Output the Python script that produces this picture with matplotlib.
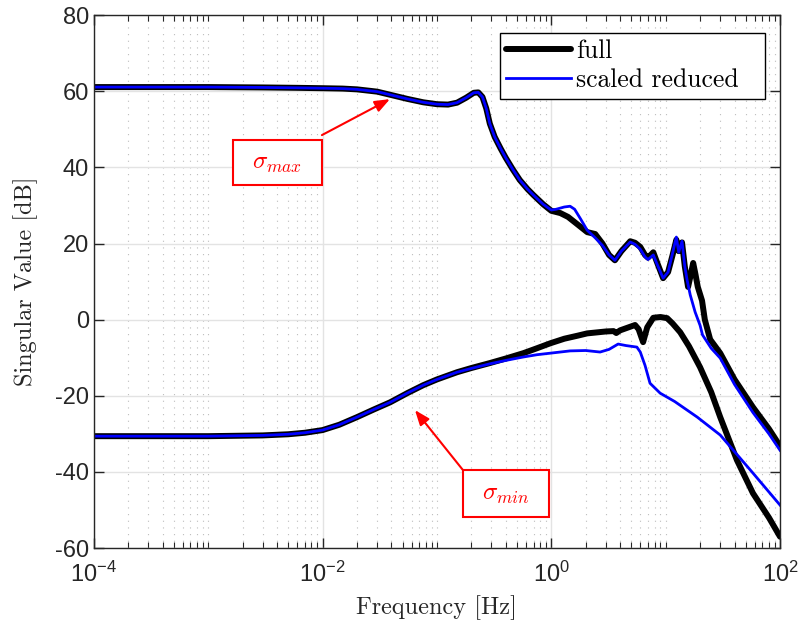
import numpy as np
import matplotlib
matplotlib.use("Agg")
import matplotlib.pyplot as plt
from matplotlib.ticker import FixedLocator, FixedFormatter, LogLocator, NullFormatter
from matplotlib.patches import Rectangle

# singular values (Hz, dB)
f_full_max = [1e-4, 1e-3, 3e-3, 6e-3, 0.01, 0.015, 0.02, 0.03, 0.04, 0.055, 0.076, 0.1, 0.125,
              0.15, 0.18, 0.21, 0.23, 0.25, 0.27, 0.29, 0.32, 0.36, 0.4, 0.46, 0.53, 0.62, 0.7,
              0.85, 1.0, 1.2, 1.4, 1.7, 2.06, 2.42, 2.8, 3.2, 3.6, 4.1, 4.9, 5.4, 6.0, 6.6, 7.0,
              7.8, 8.3, 9.5, 10.5, 11.5, 12.4, 13.0, 13.9, 14.7, 15.7, 16.5, 17.4, 18.2, 19.1,
              20.8, 22.0, 24.5, 30.0, 40.0, 58.0, 80.0, 100.0]
sv_full_max = [61.1, 61.1, 61.0, 60.9, 60.8, 60.7, 60.5, 59.9, 59.0, 58.0, 57.1, 56.6, 56.5,
               57.0, 58.3, 59.6, 59.7, 58.5, 55.5, 51.5, 48.0, 45.0, 42.5, 39.5, 36.7, 34.3, 32.7,
               30.3, 28.6, 28.0, 27.0, 25.0, 23.0, 22.5, 20.0, 17.0, 15.6, 18.0, 20.6, 20.2, 19.1, 17.0, 16.3,
               17.7, 15.5, 10.9, 12.5, 17.0, 21.0, 18.0, 20.3, 14.0, 8.6, 11.5, 14.9, 12.0, 8.6,
               5.0, 0.0, -5.2, -8.8, -15.7, -23.0, -28.7, -33.2]

f_red_max = [1e-4, 1e-3, 3e-3, 6e-3, 0.01, 0.015, 0.02, 0.03, 0.04, 0.055, 0.076, 0.1, 0.125,
             0.15, 0.18, 0.21, 0.23, 0.25, 0.27, 0.29, 0.32, 0.36, 0.4, 0.46, 0.53, 0.62, 0.7,
             0.85, 1.0, 1.1, 1.3, 1.46, 1.6, 1.8, 2.06, 2.42, 2.8, 3.2, 3.6, 4.1, 4.9, 5.4, 6.0,
             6.6, 7.0, 7.8, 8.3, 9.5, 10.5, 11.5, 12.4, 13.0, 13.9, 14.7, 15.4, 16.4, 18.1, 20.0,
             21.0, 25.0, 30.0, 40.0, 58.0, 80.0, 100.0]
sv_red_max = [61.1, 61.1, 61.0, 60.9, 60.8, 60.7, 60.5, 59.9, 59.0, 58.0, 57.1, 56.6, 56.5,
              57.0, 58.3, 59.6, 59.7, 58.5, 55.5, 51.5, 48.0, 45.0, 42.5, 39.5, 36.7, 34.3, 32.7,
              30.3, 28.8, 29.0, 29.6, 29.8, 29.0, 26.5, 23.5, 21.5, 19.5, 17.0, 15.6, 18.0, 20.4, 19.8, 18.5,
              16.5, 15.8, 17.0, 15.0, 10.9, 12.5, 17.5, 21.7, 17.7, 20.6, 14.0, 10.4, 6.5, 2.0, -1.5,
              -4.0, -7.5, -10.1, -17.0, -24.4, -30.0, -34.3]

f_full_min = [1e-4, 1e-3, 3e-3, 5e-3, 0.007, 0.01, 0.014, 0.02, 0.028, 0.039, 0.055, 0.076, 0.1,
              0.15, 0.2, 0.29, 0.4, 0.57, 0.75, 0.98, 1.3, 1.7, 2.06, 3.0, 3.5, 3.7, 4.0, 5.4, 5.8,
              6.35, 6.9, 7.8, 9.0, 10.3, 11.5, 13.4, 16.0, 20.0, 25.0, 30.0, 42.0, 58.0, 80.0, 100.0]
sv_full_min = [-30.6, -30.6, -30.4, -30.1, -29.7, -29.0, -27.6, -25.6, -23.6, -21.7, -19.3, -17.2, -15.7,
               -13.8, -12.7, -11.4, -10.2, -8.8, -7.5, -6.2, -5.0, -4.2, -3.6, -3.1, -3.0, -3.5, -2.8, -1.4, -2.5,
               -5.9, -2.0, 0.5, 0.7, 0.4, -1.0, -3.3, -7.0, -12.5, -19.0, -25.6, -36.9, -45.6, -52.0, -57.0]

f_red_min = [1e-4, 1e-3, 3e-3, 5e-3, 0.007, 0.01, 0.014, 0.02, 0.028, 0.039, 0.055, 0.076, 0.1,
             0.15, 0.2, 0.29, 0.4, 0.57, 0.75, 0.98, 1.46, 2.0, 2.67, 3.2, 3.84, 4.5, 5.6, 6.0, 6.6,
             7.3, 8.95, 12.0, 18.9, 30.0, 58.0, 100.0]
sv_red_min = [-30.6, -30.6, -30.4, -30.1, -29.7, -29.0, -27.6, -25.6, -23.6, -21.7, -19.3, -17.2, -15.7,
              -13.8, -12.8, -11.6, -10.7, -9.8, -9.2, -8.8, -8.2, -8.1, -8.5, -7.8, -6.4, -6.8, -7.2, -8.5, -12.0,
              -16.7, -19.3, -21.5, -25.6, -30.3, -40.3, -48.7]

xticks = [1e-4, 1e-2, 1e0, 1e2]
xticklabels = ['10$^{-4}$', '10$^{-2}$', '10$^{0}$', '10$^{2}$']
yticks = [-60, -40, -20, 0, 20, 40, 60, 80]

plt.rcParams['mathtext.fontset'] = 'custom'
plt.rcParams['mathtext.rm'] = 'Liberation Sans'
plt.rcParams['mathtext.it'] = 'Liberation Sans:italic'
plt.rcParams['axes.unicode_minus'] = False

fig = plt.figure(figsize=(8.02, 6.30), dpi=100)
ax = fig.add_axes([0.117, 0.130, 0.8556, 0.846])

ax.plot(f_full_max, sv_full_max, color='black', lw=4.3, label='full', solid_capstyle='round')
ax.plot(f_red_max, sv_red_max, color='#0000ff', lw=2.0, label='scaled reduced')
ax.plot(f_full_min, sv_full_min, color='black', lw=4.3, solid_capstyle='round')
ax.plot(f_red_min, sv_red_min, color='#0000ff', lw=2.0)

ax.set_xscale('log')
ax.set_xlim(1e-4, 1e2)
ax.set_ylim(-60, 80)
ax.xaxis.set_major_locator(FixedLocator(xticks))
ax.xaxis.set_major_formatter(FixedFormatter(xticklabels))
ax.xaxis.set_minor_locator(LogLocator(base=10, subs=np.arange(1, 10), numticks=50))
ax.xaxis.set_minor_formatter(NullFormatter())
ax.set_yticks(yticks)
ax.set_yticklabels([str(v) for v in yticks])

ax.tick_params(which='both', direction='in', top=True, right=True, colors='#262626',
               labelsize=17, labelcolor='#262626')
ax.tick_params(which='major', length=7, width=1)
ax.tick_params(which='minor', length=4, width=0.8)
ax.tick_params(axis='x', which='major', pad=10)
for lab in ax.get_xticklabels() + ax.get_yticklabels():
    lab.set_family('Liberation Sans')
for sp in ax.spines.values():
    sp.set_color('#262626')
    sp.set_linewidth(1)

ax.grid(True, which='major', color='#e3e3e3', lw=1, ls='-')
ax.grid(True, which='minor', axis='x', color='#bdbdbd', lw=0.8, ls=(0, (1, 5)))
ax.set_axisbelow(True)

ax.set_xlabel('Frequency [Hz]', family='cmr10', fontsize=17.5, color='#262626', labelpad=6)
ax.set_ylabel('Singular Value [dB]', family='cmr10', fontsize=17.5, color='#262626', labelpad=12)

leg = ax.legend(loc='upper left', bbox_to_anchor=(0.5918, 0.966, 0.3863, 0), mode='expand',
                borderaxespad=0, prop={'family': 'cmr10', 'size': 18.5}, fancybox=False,
                framealpha=1, edgecolor='black', handlelength=2.5, handletextpad=0.2,
                labelspacing=0.2, borderpad=0.25)
leg.get_frame().set_linewidth(1)

# annotation boxes and arrows
ax.add_patch(Rectangle((0.2026, 0.681), 0.1297, 0.0844, transform=ax.transAxes,
                       facecolor='white', edgecolor='red', lw=1.5, zorder=5))
ax.text(0.2676, 0.723, r'$\sigma_{max}$', transform=ax.transAxes, color='red', fontsize=18,
        math_fontfamily='cm', ha='center', va='center', zorder=6)
ax.annotate('', xy=(0.4315, 0.8424), xytext=(0.3324, 0.7749), xycoords='axes fraction',
            arrowprops=dict(arrowstyle='-|>,head_length=0.9,head_width=0.35', color='red', lw=1.5,
                            shrinkA=0, shrinkB=0), zorder=6)

ax.add_patch(Rectangle((0.538, 0.0582), 0.125, 0.0882, transform=ax.transAxes,
                       facecolor='white', edgecolor='red', lw=1.5, zorder=5))
ax.text(0.6006, 0.1023, r'$\sigma_{min}$', transform=ax.transAxes, color='red', fontsize=18,
        math_fontfamily='cm', ha='center', va='center', zorder=6)
ax.annotate('', xy=(0.468, 0.2589), xytext=(0.538, 0.1463), xycoords='axes fraction',
            arrowprops=dict(arrowstyle='-|>,head_length=0.9,head_width=0.35', color='red', lw=1.5,
                            shrinkA=0, shrinkB=0), zorder=6)

fig.savefig('out.png', dpi=100)
